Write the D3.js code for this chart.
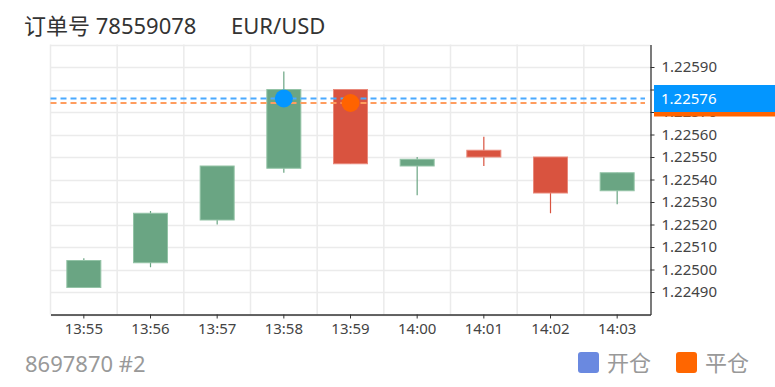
<!DOCTYPE html>
<html>
<head>
<meta charset="utf-8">
<script src="https://d3js.org/d3.v7.min.js"></script>
<style>
  html, body { margin: 0; padding: 0; background: #fff; }
  svg { display: block; font-family: "Noto Sans", "Noto Sans CJK SC", sans-serif; }
</style>
</head>
<body>
<svg id="chart" width="775" height="387"></svg>
<script>
// candle data
var categories = ['13:55', '13:56', '13:57', '13:58', '13:59', '14:00', '14:01', '14:02', '14:03']
var openVals  = [1.22492, 1.22503, 1.22522, 1.22545, 1.22580, 1.22546, 1.22553, 1.22550, 1.22535]
var closeVals = [1.22504, 1.22525, 1.22546, 1.22580, 1.22547, 1.22549, 1.22550, 1.22534, 1.22543]
var highVals  = [1.22505, 1.22526, 1.22546, 1.22588, 1.22580, 1.22550, 1.22559, 1.22550, 1.22543]
var lowVals   = [1.22492, 1.22501, 1.22520, 1.22543, 1.22547, 1.22533, 1.22546, 1.22525, 1.22529]
var yTicks = [1.22490, 1.22500, 1.22510, 1.22520, 1.22530, 1.22540, 1.22550, 1.22560, 1.22570, 1.22580, 1.22590]
var gridVals = [1.22480, 1.22490, 1.22500, 1.22510, 1.22520, 1.22530, 1.22540, 1.22550, 1.22560, 1.22570, 1.22580, 1.22590, 1.22600]

// trade markers
var openTime = '13:58', openPrice = 1.22576
var closeTime = '13:59', closePrice = 1.22574

var plotL = 50.5, plotR = 650.5, plotT = 44.5, plotB = 314.5
var svg = d3.select('#chart')

var x = d3.scaleBand().domain(categories).range([plotL, plotR]).padding(0)
var y = d3.scaleLinear().domain([1.22480, 1.22600]).range([plotB, plotT])

var green = '#6aa583', red = '#d9533f'

// grid
var grid = svg.append('g')
grid.selectAll('line.h').data(gridVals).enter().append('line')
  .attr('x1', plotL).attr('x2', plotR)
  .attr('y1', function (d) { return Math.round(y(d)) + 0.5 })
  .attr('y2', function (d) { return Math.round(y(d)) + 0.5 })
  .attr('stroke', '#ebebeb').attr('stroke-width', 1.5)
grid.selectAll('line.v').data(categories).enter().append('line')
  .attr('x1', function (d) { return x(d) }).attr('x2', function (d) { return x(d) })
  .attr('y1', plotT).attr('y2', plotB)
  .attr('stroke', '#ebebeb').attr('stroke-width', 1.5)

// candles
var data = categories.map(function (c, i) {
  return { t: c, o: openVals[i], c: closeVals[i], h: highVals[i], l: lowVals[i] }
})
var bw = 34
var candles = svg.append('g').selectAll('g').data(data).enter().append('g')
candles.append('line')
  .attr('x1', function (d) { return x(d.t) + x.bandwidth() / 2 })
  .attr('x2', function (d) { return x(d.t) + x.bandwidth() / 2 })
  .attr('y1', function (d) { return y(d.h) })
  .attr('y2', function (d) { return y(d.l) })
  .attr('stroke', function (d) { return d.c >= d.o ? green : red })
  .attr('stroke-width', 1.2)
candles.append('rect')
  .attr('x', function (d) { return x(d.t) + x.bandwidth() / 2 - bw / 2 })
  .attr('width', bw)
  .attr('y', function (d) { return y(Math.max(d.o, d.c)) })
  .attr('height', function (d) { return Math.max(1, Math.abs(y(d.o) - y(d.c))) })
  .attr('fill', function (d) { return d.c >= d.o ? green : red })
  .attr('stroke', function (d) { return d.c >= d.o ? '#93c3a6' : '#e9897b' })
  .attr('stroke-width', 1)

// dashed price lines
svg.append('line')
  .attr('x1', plotL).attr('x2', 645)
  .attr('y1', y(closePrice)).attr('y2', y(closePrice))
  .attr('stroke', '#ff9d5f').attr('stroke-width', 2).attr('stroke-dasharray', '6,4')
svg.append('line')
  .attr('x1', plotL).attr('x2', 645)
  .attr('y1', y(openPrice)).attr('y2', y(openPrice))
  .attr('stroke', '#4aaaff').attr('stroke-width', 2).attr('stroke-dasharray', '6,4')

// markers
svg.append('circle')
  .attr('cx', x(openTime) + x.bandwidth() / 2).attr('cy', y(openPrice)).attr('r', 9)
  .attr('fill', '#0396ff')
svg.append('circle')
  .attr('cx', x(closeTime) + x.bandwidth() / 2).attr('cy', y(closePrice)).attr('r', 9)
  .attr('fill', '#ff6300')

// axes
var yAxis = svg.append('g')
  .attr('transform', 'translate(' + plotR + ',0)')
  .call(d3.axisRight(y).tickValues(yTicks).tickFormat(d3.format('.5f')).tickSize(4).tickSizeOuter(0).tickPadding(7))
var xAxis = svg.append('g')
  .attr('transform', 'translate(0,' + plotB + ')')
  .call(d3.axisBottom(x).tickSize(4).tickSizeOuter(0).tickPadding(5))

;[xAxis, yAxis].forEach(function (a) {
  a.attr('font-size', null).attr('font-family', null)
  a.select('.domain').attr('stroke', '#333').attr('stroke-width', 1.3)
  a.selectAll('.tick line').attr('stroke', '#333')
  a.selectAll('text').attr('fill', '#444').style('font-size', '15px')
})

// right price labels
function priceTag(v, color) {
  var g = svg.append('g').attr('transform', 'translate(654,' + y(v) + ')')
  g.append('rect').attr('x', 0).attr('y', -13.5).attr('width', 130).attr('height', 27).attr('fill', color)
  g.append('text').attr('x', 7).attr('y', 0).attr('dy', '0.35em')
    .attr('fill', '#fff').style('font-size', '15px').text(d3.format('.5f')(v))
}
priceTag(closePrice, '#ff6300')
priceTag(openPrice, '#0396ff')

// title
svg.append('text').attr('x', 24).attr('y', 34).attr('fill', '#333')
  .style('font-size', '22px').text('订单号 78559078')
svg.append('text').attr('x', 231).attr('y', 34).attr('fill', '#333')
  .style('font-size', '22px').text('EUR/USD')

// footer
svg.append('text').attr('x', 25).attr('y', 372).attr('fill', '#999')
  .style('font-size', '22px').text('8697870 #2')

var legend = [{ name: '开仓', color: '#6a89e0', x: 578 }, { name: '平仓', color: '#ff6600', x: 676 }]
var lg = svg.append('g').selectAll('g').data(legend).enter().append('g')
  .attr('transform', function (d) { return 'translate(' + d.x + ',352)' })
lg.append('rect').attr('width', 21).attr('height', 21).attr('rx', 3).attr('fill', function (d) { return d.color })
lg.append('text').attr('x', 29).attr('y', 19).attr('fill', '#999')
  .style('font-size', '22px').text(function (d) { return d.name })
</script>
</body>
</html>
